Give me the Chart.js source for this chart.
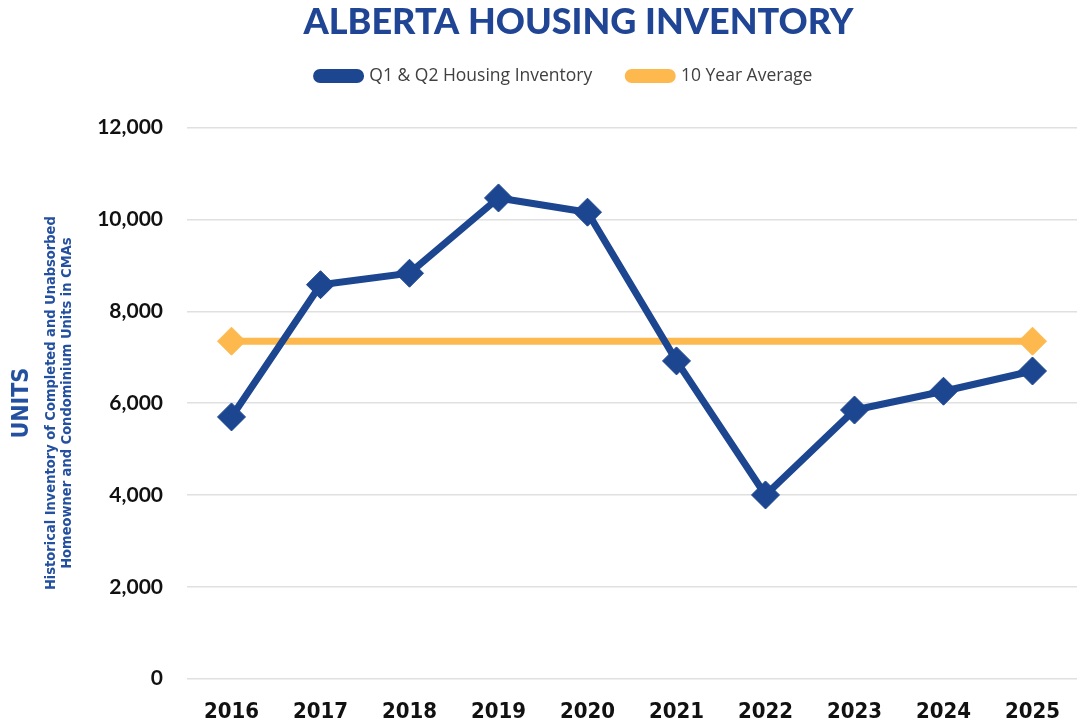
<!DOCTYPE html>
<html>
<head>
<meta charset="utf-8">
<script src="https://cdn.jsdelivr.net/npm/chart.js@4.4.1/dist/chart.umd.min.js"></script>
<style>
  html, body { margin: 0; padding: 0; background: #ffffff; overflow: hidden; }
  #wrap { width: 1092px; height: 745px; position: relative; }
</style>
</head>
<body>
<div id="wrap"><canvas id="c"></canvas></div>
<script>
const years = ['2016', '2017', '2018', '2019', '2020', '2021', '2022', '2023', '2024', '2025'];
const inventory = [5700, 8580, 8830, 10470, 10160, 6920, 4000, 5850, 6260, 6700];
const tenYearAverage = [7350, 7350, 7350, 7350, 7350, 7350, 7350, 7350, 7350, 7350];
const averageMarkerRadius = [14, 0, 0, 0, 0, 0, 0, 0, 0, 14];
const yTicks = [0, 2000, 4000, 6000, 8000, 10000, 12000];

const BLUE = '#1d4691';
const GOLD = '#fdb94e';
const NARROW = '"Liberation Sans Narrow", "DejaVu Sans Condensed", sans-serif';

const headerShift = {
  id: 'headerShift',
  beforeInit(chart) {
    const legend = chart.legend;
    const origFit = legend.fit;
    legend.fit = function () {
      origFit.call(this);
      this.height += 33;
    };
  },
  afterLayout(chart) {
    if (chart.titleBlock) { chart.titleBlock.left += 34; chart.titleBlock.right += 34; }
    if (chart.legend) { chart.legend.left += 20; chart.legend.right += 20; }
  }
};

new Chart(document.getElementById('c'), {
  type: 'line',
  plugins: [headerShift],
  data: {
    labels: years,
    datasets: [
      {
        label: 'Q1 & Q2 Housing Inventory',
        data: inventory,
        borderColor: BLUE,
        backgroundColor: BLUE,
        borderWidth: 7,
        pointStyle: 'rectRot',
        pointRadius: 14,
        pointHoverRadius: 14,
        pointBorderWidth: 1,
        pointBackgroundColor: BLUE,
        pointBorderColor: BLUE,
        tension: 0,
        yAxisID: 'y'
      },
      {
        label: '10 Year Average',
        data: tenYearAverage,
        borderColor: GOLD,
        backgroundColor: GOLD,
        borderWidth: 7,
        pointStyle: 'rectRot',
        pointRadius: averageMarkerRadius,
        pointHoverRadius: averageMarkerRadius,
        pointBorderWidth: 1,
        pointBackgroundColor: GOLD,
        pointBorderColor: GOLD,
        tension: 0,
        yAxisID: 'y'
      }
    ]
  },
  options: {
    responsive: true,
    maintainAspectRatio: false,
    animation: false,
    layout: { padding: { left: 0, right: 3, top: 0, bottom: 0 } },
    plugins: {
      title: {
        display: true,
        text: 'ALBERTA HOUSING INVENTORY',
        color: '#1f4594',
        font: { family: 'Lato, "Open Sans", sans-serif', size: 36, weight: 900, lineHeight: 1.2 },
        padding: { top: 1, bottom: -13 }
      },
      legend: {
        display: true,
        position: 'top',
        labels: {
          color: '#404040',
          font: { family: '"Open Sans", Lato, sans-serif', size: 17.5 },
          boxWidth: 44,
          boxHeight: 7,
          useBorderRadius: true,
          borderRadius: 3.5,
          padding: 36
        }
      },
      tooltip: { enabled: false }
    },
    scales: {
      x: {
        offset: true,
        grid: { display: false, drawTicks: false },
        border: { display: false },
        ticks: {
          color: '#111111',
          padding: 20,
          font: { family: NARROW, size: 22, weight: 'bold', lineHeight: 1.2 }
        }
      },
      y: {
        position: 'left',
        weight: 0,
        min: 0,
        max: 12000,
        afterBuildTicks: (axis) => { axis.ticks = yTicks.map(v => ({ value: v })); },
        afterFit: (axis) => { axis.width = 151; },
        grid: { color: '#e0e0e0', lineWidth: 1.5, drawTicks: false },
        border: { display: false },
        ticks: {
          color: '#111111',
          padding: 24,
          font: { family: 'Lato, "Open Sans", sans-serif', size: 21, weight: 'bold' },
          callback: (v) => v.toLocaleString('en-US')
        },
        title: {
          display: true,
          text: ['Historical Inventory of Completed and Unabsorbed', 'Homeowner and Condominium Units in CMAs'],
          color: '#2450a0',
          font: { family: NARROW, size: 14.5, weight: 'bold', lineHeight: 1.1 },
          padding: { top: 7, bottom: 0 }
        }
      },
      y2: {
        position: 'left',
        weight: 10,
        min: 0,
        max: 12000,
        afterFit: (axis) => { axis.width = 36; },
        grid: { display: false, drawTicks: false },
        border: { display: false },
        ticks: { display: false },
        title: {
          display: true,
          text: 'UNITS',
          color: '#2450a0',
          font: { family: NARROW, size: 23, weight: 'bold', lineHeight: 1.1 },
          padding: { top: 9, bottom: 0 }
        }
      }
    }
  }
});
</script>
</body>
</html>
